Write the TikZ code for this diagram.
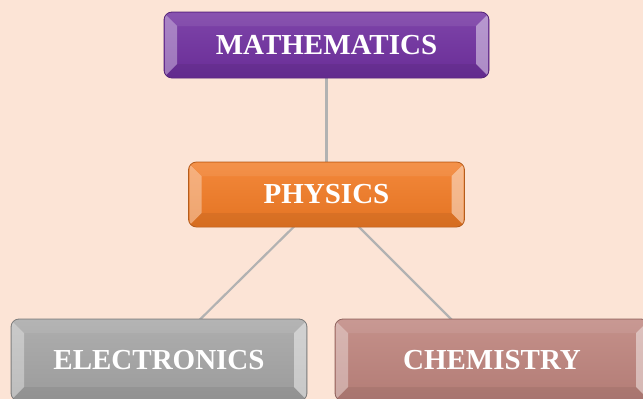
\documentclass[tikz,border=0pt]{standalone}
\usepackage{fontspec}
\setmainfont{Liberation Serif}
\usetikzlibrary{backgrounds}

\definecolor{peach}{HTML}{FCE4D6}
\definecolor{mathpurple}{HTML}{7030A0}
\definecolor{physorange}{HTML}{F27B25}
\definecolor{elecgray}{HTML}{A5A5A5}
\definecolor{chemrose}{HTML}{BE847D}

\begin{document}
\begin{tikzpicture}[x=1pt, y=-1pt, line cap=round, line join=round,
  subject/.style={rounded corners=8pt, text=white,
    font=\fontsize{29}{31}\selectfont\bfseries,
    draw=#1!75!black, line width=0.8pt, top color=#1!90!white, bottom color=#1!94!black,
    path picture={
      \fill[sharp corners, white, opacity=0.35] ([shift={(1pt,-2pt)}]path picture bounding box.north west)
        -- ([shift={(13pt,-14pt)}]path picture bounding box.north west)
        -- ([shift={(13pt,14pt)}]path picture bounding box.south west)
        -- ([shift={(1pt,2pt)}]path picture bounding box.south west) -- cycle;
      \fill[sharp corners, white, opacity=0.45] ([shift={(-1pt,-2pt)}]path picture bounding box.north east)
        -- ([shift={(-13pt,-14pt)}]path picture bounding box.north east)
        -- ([shift={(-13pt,14pt)}]path picture bounding box.south east)
        -- ([shift={(-1pt,2pt)}]path picture bounding box.south east) -- cycle;
      \fill[sharp corners, white, opacity=0.08] ([shift={(1pt,-1pt)}]path picture bounding box.north west)
        -- ([shift={(-1pt,-1pt)}]path picture bounding box.north east)
        -- ([shift={(-13pt,-14pt)}]path picture bounding box.north east)
        -- ([shift={(13pt,-14pt)}]path picture bounding box.north west) -- cycle;
      \fill[sharp corners, black, opacity=0.06] ([shift={(1pt,1pt)}]path picture bounding box.south west)
        -- ([shift={(-1pt,1pt)}]path picture bounding box.south east)
        -- ([shift={(-13pt,14pt)}]path picture bounding box.south east)
        -- ([shift={(13pt,14pt)}]path picture bounding box.south west) -- cycle;
    }},
  link/.style={draw=gray!60, line width=2.2pt}]
\useasboundingbox (0,0) rectangle (643,399);
\clip (0,0) rectangle (643,399);

\node[subject=mathpurple, minimum width=325pt, minimum height=66pt] (math) at (326.5,45) {MATHEMATICS};
\node[subject=physorange, minimum width=276pt, minimum height=65pt] (phys) at (326.5,194.5) {PHYSICS};
\node[subject=elecgray, minimum width=296pt, minimum height=82pt] (elec) at (159,360) {ELECTRONICS};
\node[subject=chemrose, minimum width=314pt, minimum height=82pt] (chem) at (492,360) {CHEMISTRY};

\begin{pgfonlayer}{background}
\fill[peach] (0,0) rectangle (643,399);
\draw[link] (math.center) -- (phys.center);
\draw[link] (phys.center) -- (elec.center);
\draw[link] (phys.center) -- (chem.center);
\end{pgfonlayer}
\end{tikzpicture}
\end{document}
